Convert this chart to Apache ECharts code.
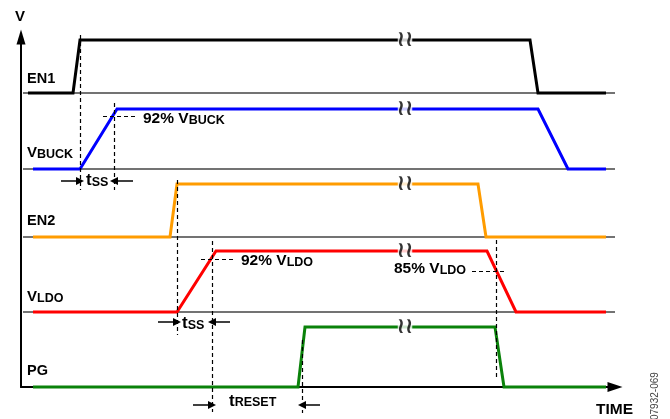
<!DOCTYPE html>
<html>
<head>
<meta charset="utf-8">
<script src="https://cdn.jsdelivr.net/npm/echarts@6/dist/echarts.min.js"></script>
<style>
  html, body { margin: 0; padding: 0; background: #fff; }
  #chart { width: 670px; height: 419px; }
</style>
</head>
<body>
<div id="chart"></div>
<script>
// time axis in arbitrary units, levels 0 = low, 1 = high
var channels = ['EN1', 'VBUCK', 'EN2', 'VLDO', 'PG'];
var timeEN1   = [7, 52, 59, 509, 517, 585];
var timeVBUCK = [12, 59, 96, 517, 547, 585];
var timeEN2   = [12, 149, 156, 457, 465, 585];
var timeVLDO  = [12, 156, 195, 466, 495, 585];
var timePG    = [12, 277, 284, 474, 483, 585];
var levels    = [0, 0, 1, 1, 0, 0];
var breakTime = 384;

// dashed guide lines [t1, v1, t2, v2]
var guides = [
    [59, 352, 59, 197],
    [93, 284, 93, 197],
    [82, 271, 116, 271],
    [156, 207, 156, 52],
    [191, 146, 191, -25],
    [180, 128, 212, 128],
    [281, 47, 281, -26],
    [475, 147, 475, 9],
    [451, 116, 485, 116]
];
// timing arrows [tFrom, tTo, v]
var arrows = [
    [40, 59, 206], [112, 93, 206],
    [137, 156, 65], [209, 191, 65],
    [172, 191, -18], [299, 281, -18]
];

// layout of each trace (baseline and swing in axis units)
var layout = {
    EN1:   { base: 294, amp: 53, color: '#000000' },
    VBUCK: { base: 218, amp: 60, color: '#0000ff' },
    EN2:   { base: 150, amp: 53, color: '#ff9c00' },
    VLDO:  { base: 75,  amp: 61, color: '#ff0000' },
    PG:    { base: 0,   amp: 60, color: '#0a820a' }
};
var times = { EN1: timeEN1, VBUCK: timeVBUCK, EN2: timeEN2, VLDO: timeVLDO, PG: timePG };

var FONT = 'Liberation Sans, Arial, sans-serif';

var series = [];
channels.forEach(function (name) {
    var l = layout[name];
    if (l.base > 0) {
        series.push({
            type: 'line', symbol: 'none', silent: true, clip: false, z: 1,
            lineStyle: { color: '#444', width: 1.5 },
            data: [[2, l.base], [594, l.base]]
        });
    }
    series.push({
        name: name, type: 'line', symbol: 'none', clip: false, z: 3,
        lineStyle: { color: l.color, width: 3, join: 'miter' },
        data: times[name].map(function (t, i) { return [t, l.base + levels[i] * l.amp]; })
    });
});

series.push({
    type: 'lines', coordinateSystem: 'cartesian2d', clip: false, z: 4, silent: true,
    lineStyle: { color: '#000', width: 1.2, type: [4, 3], opacity: 1 },
    data: guides.map(function (g) { return { coords: [[g[0], g[1]], [g[2], g[3]]] }; })
});
series.push({
    type: 'lines', coordinateSystem: 'cartesian2d', clip: false, z: 4, silent: true,
    symbol: ['none', 'triangle'], symbolSize: 8,
    lineStyle: { color: '#000', width: 1.5, opacity: 1 },
    data: arrows.map(function (a) { return { coords: [[a[0], a[2]], [a[1], a[2]]] }; })
});
series.push({
    type: 'scatter', symbolSize: 1, clip: false, z: 5, silent: true,
    itemStyle: { color: 'rgba(0,0,0,0)' },
    label: {
        show: true, position: 'inside', formatter: '≀≀',
        fontFamily: 'DejaVu Sans', fontSize: 22, fontWeight: 'bold', color: '#000',
        backgroundColor: '#fff', padding: [-4, -1], lineHeight: 14
    },
    data: channels.map(function (name) { return [breakTime, layout[name].base + layout[name].amp]; })
});

function txt(x, y, main, sub, size, subSize, pad) {
    var text = '{m|' + main + '}' + (sub ? '{s|' + sub + '}' : '');
    return {
        type: 'text', x: x, y: y, z: 10,
        style: {
            text: text, verticalAlign: 'top', align: 'left',
            rich: {
                m: { fontFamily: FONT, fontWeight: 'bold', fontSize: size, lineHeight: 18, verticalAlign: 'top', fill: '#000' },
                s: { fontFamily: FONT, fontWeight: 'bold', fontSize: subSize || 12, lineHeight: 18, verticalAlign: 'top', padding: [pad || 0, 0, 0, 0], fill: '#000' }
            }
        }
    };
}

var graphics = [
    txt(27, 71, 'EN1', null, 14.5),
    txt(27, 145, 'V', 'BUCK', 15, 12.5, 3),
    txt(27, 213.5, 'EN2', null, 14.5),
    txt(27, 289, 'V', 'LDO', 15, 12.5, 3),
    txt(27, 363.5, 'PG', null, 14.5),
    txt(143, 111, '92% V', 'BUCK', 15.5, 12.5, 3),
    txt(241, 253, '92% V', 'LDO', 15.5, 12.5, 3),
    txt(394, 261, '85% V', 'LDO', 15.5, 12.5, 3),
    txt(86, 172, 't', 'SS', 17, 12.5, 4),
    txt(182, 315, 't', 'SS', 17, 12.5, 4),
    txt(229, 392.5, 't', 'RESET', 17, 12.5, 4),
    txt(15, 9, 'V', null, 15),
    txt(596, 402, 'TIME', null, 15.5),
    {
        type: 'text', x: 650, y: 420, rotation: Math.PI / 2, z: 10,
        style: { text: '07932-069', font: '10px ' + FONT, fill: '#444', align: 'left', verticalAlign: 'top' }
    }
];

var option = {
    animation: false,
    backgroundColor: '#fff',
    grid: { left: 21, right: 55, top: 37, bottom: 32 },
    xAxis: {
        type: 'value', min: 0, max: 594,
        axisLine: { show: true, onZero: false, symbol: ['none', 'triangle'], symbolSize: [10, 15], lineStyle: { color: '#000', width: 2 } },
        axisTick: { show: false }, axisLabel: { show: false }, splitLine: { show: false }
    },
    yAxis: {
        type: 'value', min: 0, max: 350,
        axisLine: { show: true, onZero: false, symbol: ['none', 'triangle'], symbolSize: [9, 15], lineStyle: { color: '#000', width: 2 } },
        axisTick: { show: false }, axisLabel: { show: false }, splitLine: { show: false }
    },
    series: series,
    graphic: graphics
};

var chart = echarts.init(document.getElementById('chart'));
chart.setOption(option);
</script>
</body>
</html>
